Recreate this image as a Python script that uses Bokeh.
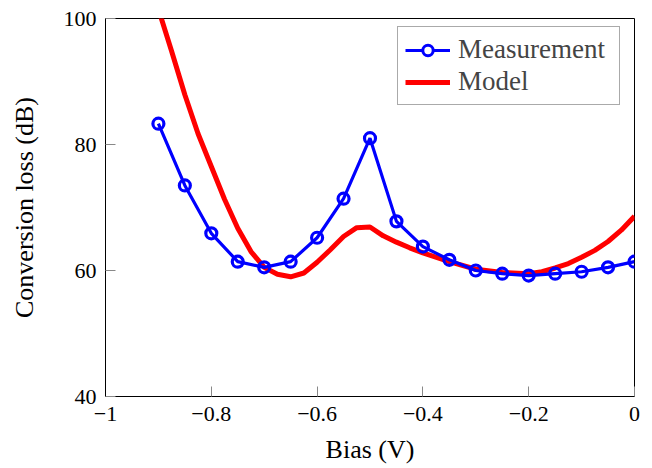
from bokeh.plotting import figure
from bokeh.models import FixedTicker, Legend, LegendItem, Range1d
from bokeh.embed import file_html
from bokeh.resources import INLINE

meas_x = [-0.9, -0.85, -0.8, -0.75, -0.7, -0.65, -0.6, -0.55, -0.5, -0.45,
          -0.4, -0.35, -0.3, -0.25, -0.2, -0.15, -0.1, -0.05, 0.0]
meas_y = [83.3, 73.5, 65.9, 61.4, 60.5, 61.4, 65.2, 71.4, 81.0, 67.8,
          63.8, 61.7, 60.0, 59.5, 59.2, 59.5, 59.8, 60.5, 61.4]

model_x = [-0.9, -0.875, -0.85, -0.825, -0.8, -0.775, -0.75, -0.725, -0.7, -0.675,
           -0.65, -0.625, -0.6, -0.575, -0.55, -0.525, -0.5, -0.475, -0.45, -0.425,
           -0.4, -0.35, -0.3, -0.25, -0.2, -0.175, -0.15, -0.125, -0.1, -0.075,
           -0.05, -0.025, 0.0]
model_y = [101.5, 94.8, 87.9, 81.7, 76.5, 71.3, 66.7, 63.0, 60.5, 59.4,
           59.0, 59.6, 61.3, 63.3, 65.4, 66.8, 66.9, 65.5, 64.5, 63.6,
           62.8, 61.4, 60.2, 59.7, 59.5, 59.8, 60.4, 61.1, 62.1, 63.2,
           64.6, 66.4, 68.6]

x_ticks = [-1, -0.8, -0.6, -0.4, -0.2, 0]
x_tick_labels = ["\u22121", "\u22120.8", "\u22120.6", "\u22120.4", "\u22120.2", "0"]
y_ticks = [40, 60, 80, 100]

FONT = "Liberation Serif"

p = figure(output_backend="svg", toolbar_location=None,
           frame_width=529, frame_height=378,
           x_range=Range1d(-1, 0), y_range=Range1d(40, 100),
           min_border_left=105, min_border_right=9, min_border_top=18, min_border_bottom=4)
p.width = 643
p.height = 466
p.grid.visible = False
p.outline_line_color = "black"
p.outline_line_width = 1
p.background_fill_color = "white"
p.border_fill_color = "white"

for ax in (p.xaxis[0], p.yaxis[0]):
    ax.axis_line_color = "black"
    ax.major_tick_in = 10
    ax.major_tick_out = 0
    ax.minor_tick_line_color = None
    ax.major_tick_line_color = "#888888"
    ax.major_label_text_font = FONT
    ax.major_label_text_font_size = "22px"
    ax.major_label_text_color = "black"
    ax.axis_label_text_font = FONT
    ax.axis_label_text_font_size = "26px"
    ax.axis_label_text_font_style = "normal"
    ax.axis_label_text_color = "black"

p.xaxis.ticker = FixedTicker(ticks=x_ticks)
p.xaxis.major_label_overrides = {t: l for t, l in zip(x_ticks, x_tick_labels)}
p.yaxis.ticker = FixedTicker(ticks=y_ticks)
p.xaxis.axis_label = "Bias (V)"
p.yaxis.axis_label = "Conversion loss (dB)"
p.xaxis.major_label_standoff = 10
p.yaxis.major_label_standoff = 9
p.xaxis.axis_label_standoff = 11
p.yaxis.axis_label_standoff = 22

r_model = p.line(model_x, model_y, line_color="red", line_width=5)
r_meas_line = p.line(meas_x, meas_y, line_color="blue", line_width=3.2)
r_meas_pts = p.scatter(meas_x, meas_y, size=11, marker="circle",
                       line_color="blue", line_width=3.2, fill_color=None)

# legend-only glyphs (one point far outside the visible range) so the legend marker can be smaller
off_x = [-5.0]
off_y = [0.0]
leg_meas_line = p.line(off_x, off_y, line_color="blue", line_width=3.2)
leg_meas_pts = p.scatter(off_x, off_y, size=7, marker="circle",
                         line_color="blue", line_width=3, fill_color="white")
leg_model = p.line(off_x, off_y, line_color="red", line_width=5)

legend = Legend(items=[
    LegendItem(label="Measurement", renderers=[leg_meas_line, leg_meas_pts]),
    LegendItem(label="Model", renderers=[leg_model]),
], location=(292, 291))
legend.label_text_font = FONT
legend.label_text_font_size = "27px"
legend.glyph_width = 45
legend.glyph_height = 26
legend.label_height = 26
legend.label_width = 154
legend.spacing = 1
legend.padding = 7
legend.margin = 0
legend.label_standoff = 8
legend.border_line_color = "#555555"
legend.border_line_width = 1
legend.background_fill_alpha = 1
p.add_layout(legend)

open("out.html", "w").write(file_html(p, INLINE))
